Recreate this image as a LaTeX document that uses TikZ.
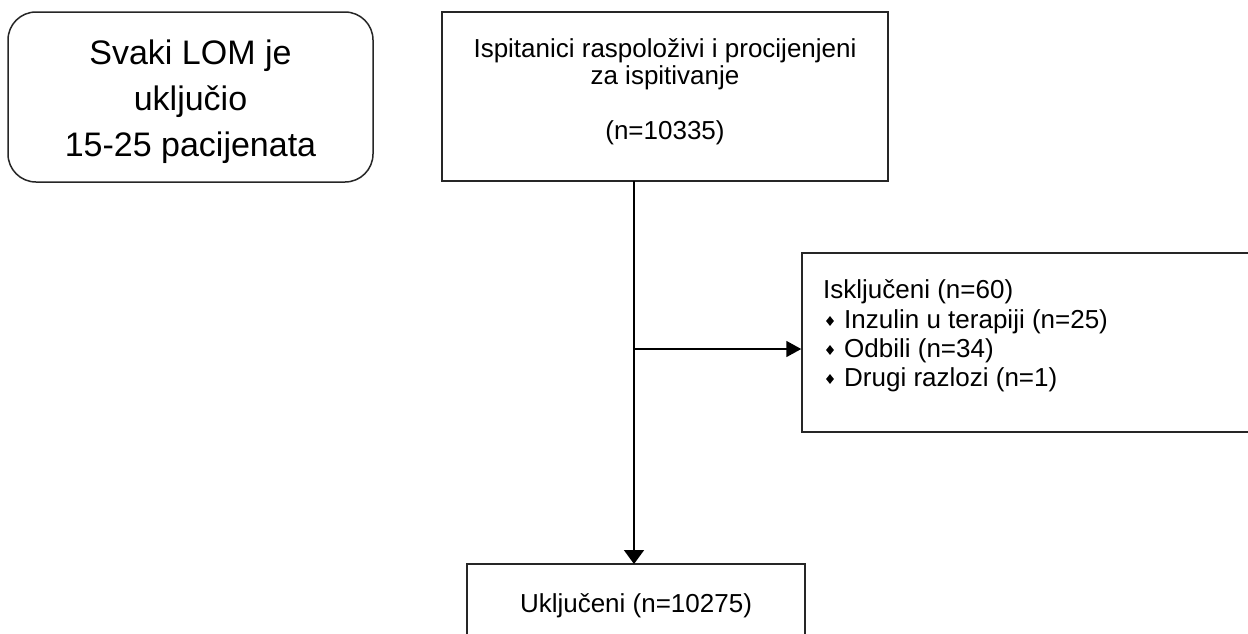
\documentclass[tikz,border=0pt]{standalone}
\usepackage{fontspec}
\setmainfont{Liberation Sans}
\usetikzlibrary{arrows.meta,shapes.geometric}
\tikzset{
  box/.style={draw=black!85, line width=1.5pt, rectangle, inner sep=0pt},
  rbox/.style={box, rounded corners=28pt},
  txt/.style={inner sep=0pt, font=\fontsize{26pt}{29pt}\selectfont},
  bigtxt/.style={inner sep=0pt, font=\fontsize{34pt}{40pt}\selectfont},
  bul/.style={diamond, fill=black, draw=none, inner sep=0pt, minimum width=8pt, minimum height=10pt},
  arr/.style={draw=black, line width=1.8pt, -{Triangle[length=15pt,width=16pt]}},
  varr/.style={draw=black, line width=1.8pt, -{Triangle[length=14pt,width=20pt]}},
}
\begin{document}
\begin{tikzpicture}[x=1pt,y=-1pt]
\path[use as bounding box] (0,0) rectangle (1248,633);
\fill[white] (0,0) rectangle (1248,633);
\clip (0,0) rectangle (1248,633);
% rounded info box
\node[rbox, minimum width=365pt, minimum height=170pt] (lom) at (190.5,97) {};
\node[bigtxt, anchor=base] (l1) at (190.5,64) {Svaki LOM je};
\node[bigtxt, anchor=base] (l2) at (190.5,110) {uključio};
\node[bigtxt, anchor=base] (l3) at (190.5,156) {15-25 pacijenata};
% top box
\node[box, minimum width=446pt, minimum height=169pt] (top) at (665,96.5) {};
\node[txt, anchor=base] (t1) at (665,57) {Ispitanici raspoloživi i procijenjeni};
\node[txt, anchor=base] (t2) at (665,84) {za ispitivanje};
\node[txt, anchor=base] (t3) at (665,139) {(n=10335)};
% right (excluded) box
\node[box, minimum width=480pt, minimum height=179pt] (exc) at (1042,342.5) {};
\node[txt, anchor=base west] (e0) at (823,298) {Isključeni (n=60)};
\node[bul] (b1) at (830,321) {};
\node[txt, anchor=base west] (e1) at (844,328) {Inzulin u terapiji (n=25)};
\node[bul] (b2) at (830,350) {};
\node[txt, anchor=base west] (e2) at (844,357) {Odbili (n=34)};
\node[bul] (b3) at (830,379) {};
\node[txt, anchor=base west] (e3) at (844,386) {Drugi razlozi (n=1)};
% bottom box
\node[box, minimum width=338pt, minimum height=120pt] (inc) at (636,624) {};
\node[txt, anchor=base] (i1) at (636,612) {Uključeni (n=10275)};
% connectors
\coordinate (s) at (634,181);
\coordinate (e) at (634,564);
\coordinate (j) at (634,349);
\draw[line width=1.8pt] (s) -- (j);
\draw[varr] (j) -- (e);
\draw[arr] (j) -- (j -| exc.west);
\end{tikzpicture}
\end{document}
